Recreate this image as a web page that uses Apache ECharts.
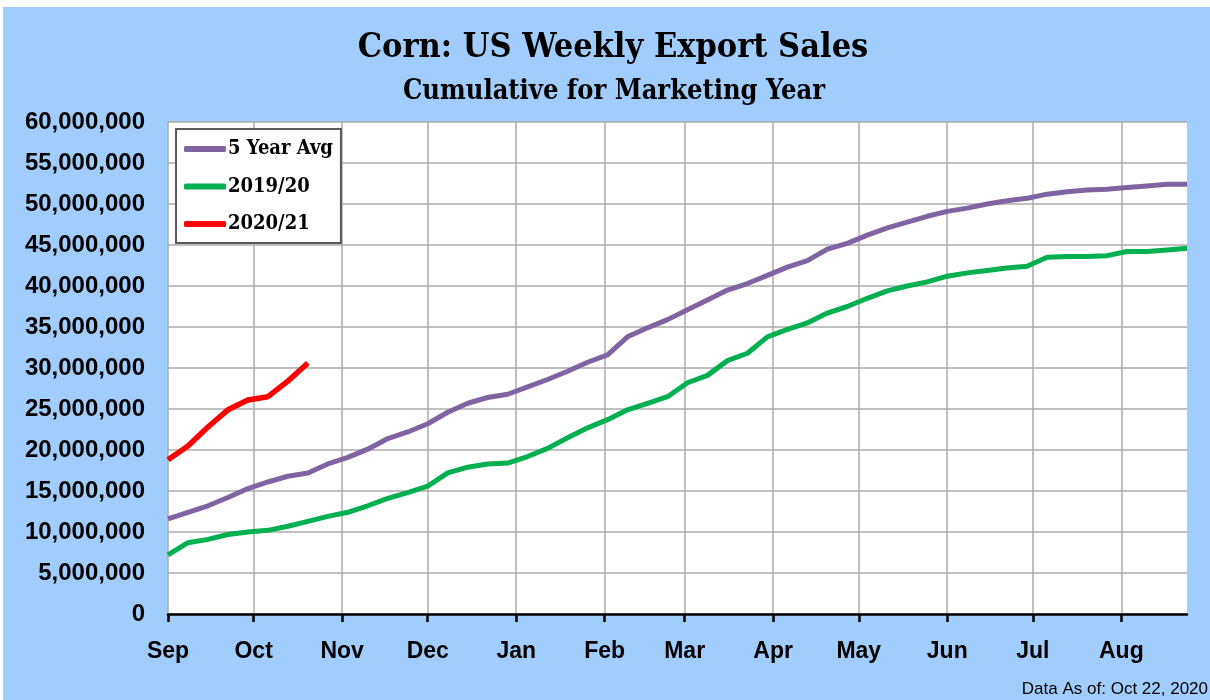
<!DOCTYPE html>
<html>
<head>
<meta charset="utf-8">
<script src="https://cdn.jsdelivr.net/npm/echarts@6/dist/echarts.min.js"></script>
<style>
  html, body { margin: 0; padding: 0; background: #ffffff; width: 1210px; height: 700px; overflow: hidden; }
  #chart { position: absolute; left: 3px; top: 7px; width: 1207px; height: 693px; }
</style>
</head>
<body>
<div id="chart"></div>
<script>
// Month tick labels and their day offsets from Sep 1
const monthLabels = ['Sep','Oct','Nov','Dec','Jan','Feb','Mar','Apr','May','Jun','Jul','Aug'];
const monthDays   = [0, 30, 61, 91, 122, 153, 181, 212, 242, 273, 303, 334];

// Week positions (days since Sep 1), one per weekly report
const weekDays = Array.from({length: 52}, (_, i) => i * 7);

// Cumulative export sales, in millions (scaled to raw units when plotted)
const avg5yr = [11.6,12.4,13.2,14.2,15.3,16.1,16.8,17.2,18.3,19.1,20.1,21.4,22.2,23.2,24.6,25.7,26.4,26.8,27.7,28.6,
                29.6,30.7,31.6,33.8,34.9,35.9,37.1,38.3,39.5,40.3,41.3,42.3,43.1,44.5,45.2,46.2,47.1,47.8,48.5,49.1,
                49.5,50.0,50.4,50.7,51.2,51.5,51.7,51.8,52.0,52.2,52.4,52.4];
const y2019 = [7.2,8.7,9.1,9.7,10.0,10.2,10.7,11.3,11.9,12.4,13.2,14.1,14.8,15.6,17.2,17.9,18.3,18.4,19.2,20.2,
               21.5,22.7,23.7,24.9,25.7,26.5,28.2,29.1,30.9,31.8,33.8,34.7,35.5,36.7,37.5,38.5,39.4,40.0,40.5,41.2,
               41.6,41.9,42.2,42.4,43.5,43.6,43.6,43.7,44.2,44.2,44.4,44.6];
const y2020 = [18.8,20.5,22.8,24.9,26.1,26.5,28.4,30.6];

const seriesNames = ['5 Year Avg', '2019/20', '2020/21'];
const seriesColors = ['#8064A2', '#00B050', '#FF0000'];

function toPairs(vals) { return vals.map((v, i) => [weekDays[i], v * 1e6]); }

const chart = echarts.init(document.getElementById('chart'), null, {renderer: 'canvas'});
const serif = '"DejaVu Serif Condensed", "DejaVu Serif", serif';

chart.setOption({
  backgroundColor: '#a0cdfc',
  animation: false,
  graphic: [
    {type: 'text', x: 610, y: 24, style: {text: 'Corn: US Weekly Export Sales', textAlign: 'center', textVerticalAlign: 'top',
      font: 'bold 34px ' + serif, fill: '#000'}},
    {type: 'text', x: 611, y: 71, style: {text: 'Cumulative for Marketing Year', textAlign: 'center', textVerticalAlign: 'top',
      font: 'bold 27px ' + serif, fill: '#000'}},
    {type: 'text', x: 1205, y: 682, style: {text: 'Data As of: Oct 22, 2020', textAlign: 'right', textVerticalAlign: 'middle',
      font: '17px "Liberation Sans"', fill: '#000'}}
  ],
  grid: {left: 165, right: 23, top: 115, bottom: 86, show: true, backgroundColor: '#ffffff', borderWidth: 0},
  legend: {
    left: 173, top: 122, orient: 'vertical',
    backgroundColor: '#ffffff', borderColor: '#595959', borderWidth: 2, borderRadius: 0,
    padding: [10, 8, 9, 8], itemGap: 17.5, itemWidth: 42, itemHeight: 6, icon: 'roundRect',
    textStyle: {fontFamily: serif, fontWeight: 'bold', fontSize: 20, color: '#000', padding: [0, 0, 0, -3]},
    data: seriesNames
  },
  xAxis: {
    type: 'value', min: 0, max: weekDays[weekDays.length - 1],
    axisLine: {show: true, onZero: false, lineStyle: {color: '#000', width: 2.5}},
    axisTick: {show: true, length: 8, lineStyle: {color: '#000', width: 2.5}, customValues: monthDays},
    axisLabel: {margin: 26, customValues: monthDays, fontFamily: 'Liberation Sans', fontWeight: 'bold', fontSize: 23, color: '#000',
      formatter: v => monthLabels[monthDays.indexOf(v)] || ''},
    splitLine: {show: true, lineStyle: {color: '#ababab', width: 1.5}}
  },
  yAxis: {
    type: 'value', min: 0, max: 60000000, interval: 5000000,
    axisLine: {show: false}, axisTick: {show: false},
    axisLabel: {margin: 23, fontFamily: 'Liberation Sans', fontWeight: 'bold', fontSize: 24, color: '#000',
      formatter: v => v.toLocaleString('en-US')},
    splitLine: {show: true, lineStyle: {color: '#ababab', width: 1.5}}
  },
  series: [
    {name: seriesNames[0], type: 'line', data: toPairs(avg5yr), showSymbol: false, symbol: 'none',
     lineStyle: {color: seriesColors[0], width: 5}, itemStyle: {color: seriesColors[0]}},
    {name: seriesNames[1], type: 'line', data: toPairs(y2019), showSymbol: false, symbol: 'none',
     lineStyle: {color: seriesColors[1], width: 5}, itemStyle: {color: seriesColors[1]}},
    {name: seriesNames[2], type: 'line', data: toPairs(y2020), showSymbol: false, symbol: 'none',
     lineStyle: {color: seriesColors[2], width: 5.5}, itemStyle: {color: seriesColors[2]}}
  ]
});
</script>
</body>
</html>
